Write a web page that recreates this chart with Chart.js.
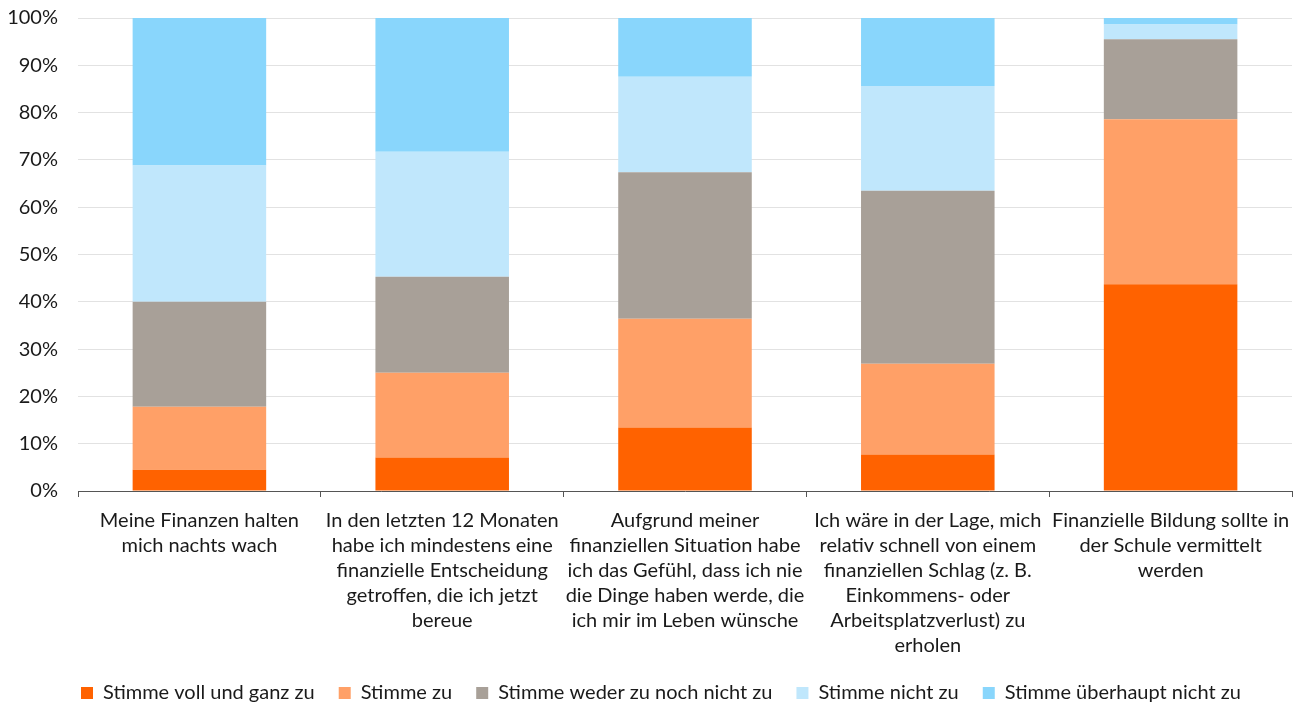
<!DOCTYPE html>
<html>
<head>
<meta charset="utf-8">
<script src="https://cdn.jsdelivr.net/npm/chart.js@4"></script>
<style>
  html, body { margin: 0; padding: 0; background: #fff; }
  #wrap { width: 1302px; height: 709px; position: relative; }
</style>
</head>
<body>
<div id="wrap"><canvas id="chart"></canvas></div>
<script>
// statements, wrapped into lines for the x axis
const categories = [
  ['Meine Finanzen halten', 'mich nachts wach'],
  ['In den letzten 12 Monaten', 'habe ich mindestens eine', 'finanzielle Entscheidung', 'getroffen, die ich jetzt', 'bereue'],
  ['Aufgrund meiner', 'finanziellen Situation habe', 'ich das Gefühl, dass ich nie', 'die Dinge haben werde, die', 'ich mir im Leben wünsche'],
  ['Ich wäre in der Lage, mich', 'relativ schnell von einem', 'finanziellen Schlag (z. B.', 'Einkommens- oder', 'Arbeitsplatzverlust) zu', 'erholen'],
  ['Finanzielle Bildung sollte in', 'der Schule vermittelt', 'werden']
];

const seriesNames = [
  'Stimme voll und ganz zu',
  'Stimme zu',
  'Stimme weder zu noch nicht zu',
  'Stimme nicht zu',
  'Stimme überhaupt nicht zu'
];

// shares in percent, one array per answer
const vollUndGanz = [4.5, 7.1, 13.4, 7.7, 43.7];
const stimmeZu    = [13.3, 17.9, 23.0, 19.2, 34.9];
const wederNoch   = [22.2, 20.3, 31.0, 36.6, 16.9];
const nichtZu     = [28.8, 26.4, 20.2, 22.1, 3.1];
const ueberhaupt  = [31.2, 28.3, 12.4, 14.4, 1.4];

const yTicks = [0, 10, 20, 30, 40, 50, 60, 70, 80, 90, 100];

const colors = ['#FF6200', '#FFA067', '#A8A098', '#C0E7FC', '#89D6FC'];
const seriesValues = [vollUndGanz, stimmeZu, wederNoch, nichtZu, ueberhaupt];

const FONT = 'Lato, "Noto Sans", sans-serif';
Chart.defaults.font.family = FONT;
Chart.defaults.font.size = 20;
Chart.defaults.color = '#1a1a1a';

// put the legend row at a fixed spot under the axis labels
const legendPlace = {
  id: 'legendPlace',
  afterLayout(chart) {
    const lg = chart.legend;
    const pad = lg.options.labels.padding;
    lg.left = 81 - pad;
    lg.top = 693 - pad - 10;
  }
};

const ctx = document.getElementById('chart').getContext('2d');
new Chart(ctx, {
  type: 'bar',
  data: {
    labels: categories,
    datasets: seriesNames.map((name, i) => ({
      label: name,
      data: seriesValues[i],
      backgroundColor: colors[i],
      borderWidth: 0,
      categoryPercentage: 1,
      barPercentage: 0.55
    }))
  },
  plugins: [legendPlace],
  options: {
    responsive: true,
    maintainAspectRatio: false,
    animation: false,
    layout: { padding: { left: 0, right: 10, top: 6, bottom: 0 } },
    plugins: {
      tooltip: { enabled: false },
      legend: {
        position: 'bottom',
        align: 'start',
        labels: {
          boxWidth: 12,
          boxHeight: 12,
          padding: 24,
          color: '#1a1a1a',
          font: { size: 20 }
        }
      }
    },
    scales: {
      x: {
        stacked: true,
        afterFit: axis => { axis.height = 164; },
        grid: {
          offset: true,
          drawOnChartArea: false,
          drawTicks: true,
          tickLength: 6,
          color: '#555'
        },
        border: { color: '#555', width: 1 },
        ticks: {
          maxRotation: 0,
          autoSkip: false,
          padding: 11,
          color: '#1a1a1a',
          font: { size: 20, lineHeight: 1.25 }
        }
      },
      y: {
        stacked: true,
        min: 0,
        max: 100,
        afterFit: axis => { axis.width = 78; axis.paddingTop = 18; },
        afterBuildTicks: axis => { axis.ticks = yTicks.map(v => ({ value: v })); },
        grid: { color: '#e2e2e2', drawTicks: false },
        border: { display: false },
        ticks: {
          padding: 20,
          color: '#1a1a1a',
          font: { size: 20 },
          callback: v => v + '%'
        }
      }
    }
  }
});
</script>
</body>
</html>
